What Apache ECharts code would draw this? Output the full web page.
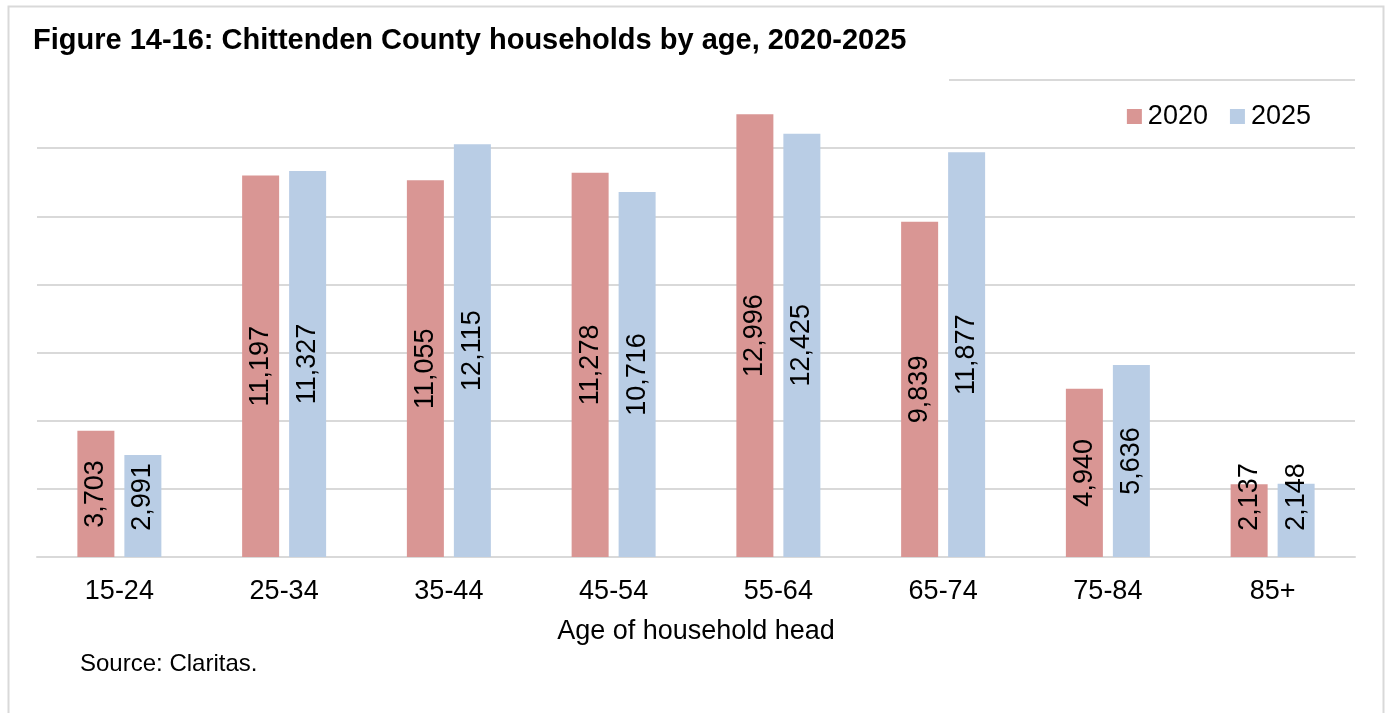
<!DOCTYPE html>
<html>
<head>
<meta charset="utf-8">
<script src="https://cdn.jsdelivr.net/npm/echarts@6/dist/echarts.min.js"></script>
<style>
html,body{margin:0;padding:0;background:#fff;}
#chart{width:1385px;height:713px;}
</style>
</head>
<body>
<div id="chart"></div>
<script>
const categories = ['15-24','25-34','35-44','45-54','55-64','65-74','75-84','85+'];
const series2020 = [3703, 11197, 11055, 11278, 12996, 9839, 4940, 2137];
const series2025 = [2991, 11327, 12115, 10716, 12425, 11877, 5636, 2148];
const seriesNames = ['2020', '2025'];
const titleText = 'Figure 14-16: Chittenden County households by age, 2020-2025';
const xAxisName = 'Age of household head';
const sourceText = 'Source: Claritas.';

const FONT = '"Liberation Sans", Arial, sans-serif';
const Y_MAX = 14000;
const GRID_TOP = 80, GRID_BOTTOM = 156, CHART_H = 713;
const plotH = CHART_H - GRID_TOP - GRID_BOTTOM;
const chart = echarts.init(document.getElementById('chart'), null, {renderer: 'canvas'});

function fmt(v){ return v.toLocaleString('en-US'); }
// Excel keeps a rotated label's centre at least ~60px above the bar base
function buildData(arr){
  return arr.map(function(v){
    const half = v / Y_MAX * plotH / 2;
    const shift = Math.max(0, 60 - half);
    const item = {value: v};
    if (shift > 0) { item.label = {offset: [shift, 0]}; }
    return item;
  });
}
const labelCfg = {
  show: true, position: 'inside', rotate: 90,
  color: '#000', fontFamily: FONT, fontSize: 27,
  formatter: function(p){ return fmt(p.value); }
};

chart.setOption({
  animation: false,
  backgroundColor: '#fff',
  title: {
    text: titleText, left: 28, top: 21,
    textStyle: {fontFamily: FONT, fontSize: 29, fontWeight: 'bold', color: '#000'}
  },
  legend: {
    data: seriesNames, right: 69, top: 98, itemWidth: 15, itemHeight: 15, itemGap: 22,
    icon: 'rect',
    textStyle: {fontFamily: FONT, fontSize: 27, color: '#000', padding: [0,0,0,1]}
  },
  grid: {left: 37, right: 30, top: GRID_TOP, bottom: GRID_BOTTOM, containLabel: false},
  xAxis: {
    type: 'category', data: categories,
    axisLine: {lineStyle: {color: '#d9d9d9', width: 2}},
    axisTick: {show: false},
    axisLabel: {fontFamily: FONT, fontSize: 27, color: '#000', margin: 21},
    name: xAxisName, nameLocation: 'middle', nameGap: 61,
    nameTextStyle: {fontFamily: FONT, fontSize: 27, color: '#000'}
  },
  yAxis: {
    type: 'value', min: 0, max: Y_MAX, interval: 2000,
    axisLabel: {show: false}, axisLine: {show: false}, axisTick: {show: false},
    splitLine: {lineStyle: {color: '#d9d9d9', width: 2}}
  },
  series: [
    {name: seriesNames[0], type: 'bar', data: buildData(series2020), barWidth: 37, barGap: '27%',
     itemStyle: {color: '#d99694'}, label: labelCfg},
    {name: seriesNames[1], type: 'bar', data: buildData(series2025), barWidth: 37, barGap: '27%',
     itemStyle: {color: '#b9cde5'}, label: labelCfg}
  ],
  graphic: [
    {type: 'rect', left: 36, top: 74, shape: {width: 913, height: 12}, style: {fill: '#fff'}, z: 5},
    {type: 'rect', left: 6, top: 4, shape: {width: 1375, height: 712}, style: {fill: 'none', stroke: '#d9d9d9', lineWidth: 2}, z: 10},
    {type: 'text', left: 80, top: 652, style: {text: sourceText, font: '24px ' + FONT, fill: '#000'}}
  ]
});
</script>
</body>
</html>
